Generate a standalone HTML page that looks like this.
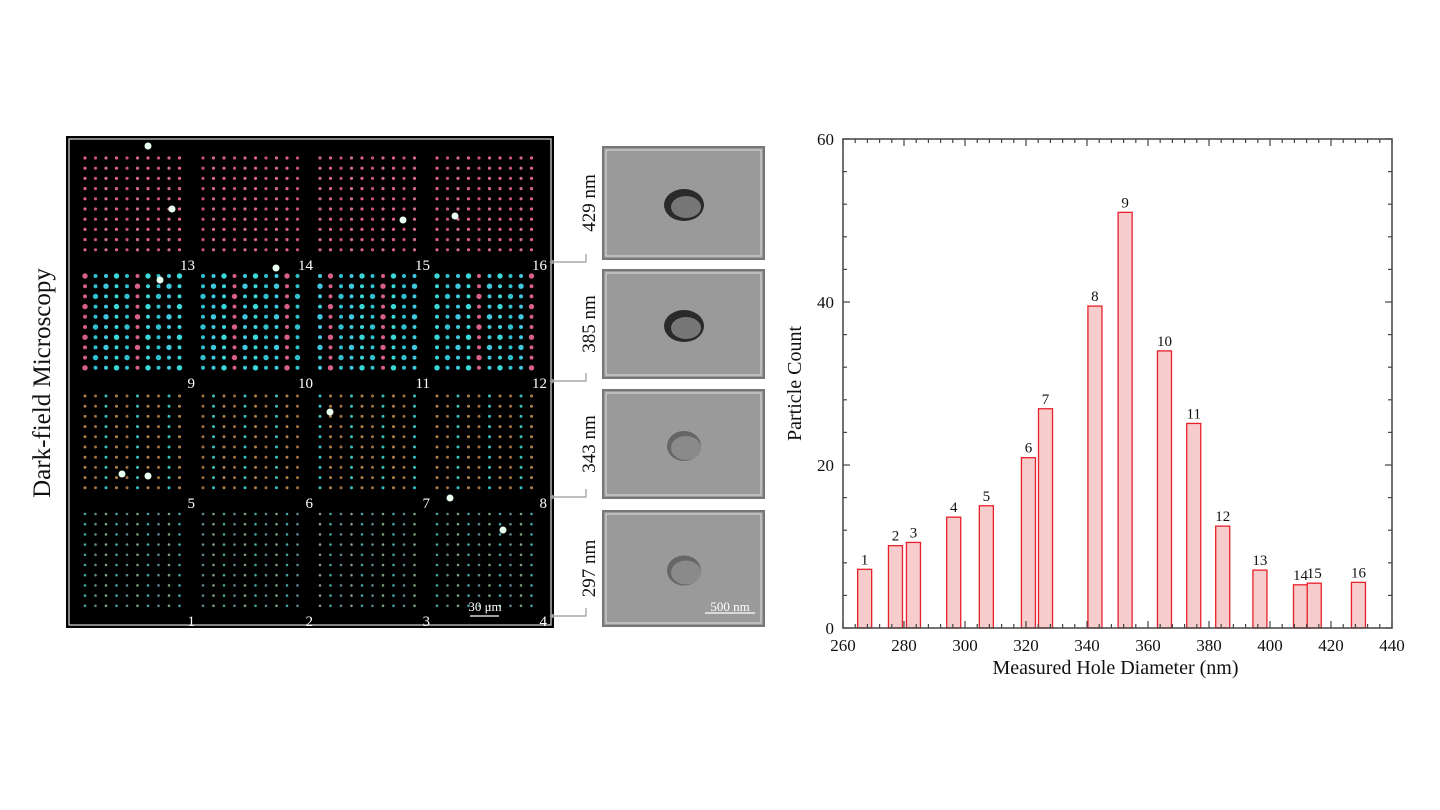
<!DOCTYPE html>
<html><head><meta charset="utf-8"><style>
body{margin:0;width:1440px;height:810px;background:#fff;overflow:hidden;font-family:"Liberation Serif",serif}
svg{position:absolute;left:0;top:0}
</style></head><body>
<svg id="fig" width="1440" height="810">
  <g id="micro">
    <rect x="66" y="136" width="488" height="492" fill="#000"/>
    <rect x="69" y="139" width="482" height="486" fill="none" stroke="#ddd" stroke-width="1.2"/>
  </g>
  <text transform="translate(50,383) rotate(-90)" text-anchor="middle" font-size="25" fill="#111">Dark-field Microscopy</text>
  <g id="sem"></g>
  <g id="chart"></g>
</svg>
<script>
const NS="http://www.w3.org/2000/svg";
function mk(p,t,a){const e=document.createElementNS(NS,t);for(const k in a)e.setAttribute(k,a[k]);p.appendChild(e);return e;}
// ---- microscopy dots (decorative) ----
const micro=document.getElementById('micro');
const colX=[85,203,320,437],rowY=[158,276,396,514];
const rowCols=[['#e0608a','#c85080','#d06a90'],['#3ad8d8','#30c0d0','#40c8e0'],['#b08048','#a07040','#38c0c0'],['#40a8a0','#608890','#80a080']];
const rowR=[1.6,2.0,1.5,1.3];
for(let r=0;r<4;r++)for(let c=0;c<4;c++){
  for(let i=0;i<10;i++)for(let j=0;j<10;j++){
    let col=rowCols[r][(i*7+j*3+c)%3];
    if(r==1&&(i*3+j*5+c)%5==0)col='#d86088';
    mk(micro,'circle',{cx:colX[c]+i*10.5,cy:rowY[r]+j*10.2,r:rowR[r]+((r==1&&(i+j+c)%3==0)?0.7:0),fill:col});
  }
  const n=(3-r)*4+c+1;
  const t=mk(micro,'text',{x:colX[c]+110,y:rowY[r]+112,'text-anchor':'end','font-size':15,fill:'#fff'});
  t.textContent=n;
  
  
}
[[148,146],[172,209],[403,220],[455,216],[276,268],[160,280],[122,474],[148,476],[330,412],[450,498],[503,530]].forEach(p=>mk(micro,'circle',{cx:p[0],cy:p[1],r:3.5,fill:'#e8fff0'}));
mk(micro,'line',{x1:470,y1:616,x2:499,y2:616,stroke:'#fff','stroke-width':1.2});
const sb=mk(micro,'text',{x:485,y:611,'text-anchor':'middle','font-size':13,fill:'#fff'});sb.textContent='30 μm';


// ---- SEM panels ----
const sem=document.getElementById('sem');
const semY=[147,270,390,511],semH=[112,108,108,115],semL=['429 nm','385 nm','343 nm','297 nm'],connY=[262,381,497,616];
for(let k=0;k<4;k++){
  mk(sem,'rect',{x:603,y:semY[k],width:161,height:semH[k],fill:'#9a9a9a',stroke:'#777','stroke-width':2});
  mk(sem,'rect',{x:606,y:semY[k]+3,width:155,height:semH[k]-6,fill:'none',stroke:'#ddd','stroke-width':1});
  const cy=semY[k]+semH[k]/2+2;
  mk(sem,'ellipse',{cx:684,cy:cy,rx:k<2?20:17,ry:k<2?16:15,fill:k<2?'#2a2a2a':'#666'});
  mk(sem,'ellipse',{cx:686,cy:cy+2,rx:15,ry:k<2?11:12,fill:k<2?'#777':'#8a8a8a'});
  const t=mk(sem,'text',{transform:`translate(${595},${semY[k]+semH[k]/2}) rotate(-90)`,'text-anchor':'middle','font-size':19,fill:'#111'});
  t.textContent=semL[k];
  
  
  mk(sem,'polyline',{points:`552,${connY[k]} 586,${connY[k]} 586,${connY[k]-8}`,fill:'none',stroke:'#999','stroke-width':1.2});
  mk(sem,'circle',{cx:552,cy:connY[k],r:2.2,fill:'#999'});
}
mk(sem,'line',{x1:705,y1:613,x2:755,y2:613,stroke:'#fff','stroke-width':1.2});
const sb2=mk(sem,'text',{x:730,y:611,'text-anchor':'middle','font-size':13,fill:'#fff'});sb2.textContent='500 nm';


// ---- chart data ----
const barLabels=['1','2','3','4','5','6','7','8','9','10','11','12','13','14','15','16'];
const diameters=[267.1,277.2,283.1,296.3,307.0,320.8,326.4,342.6,352.5,365.4,375.0,384.5,396.7,410.0,414.5,429.0];
const counts=[7.2,10.1,10.5,13.6,15.0,20.9,26.9,39.5,51.0,34.0,25.1,12.5,7.1,5.3,5.5,5.6];
const xTicks=[260,280,300,320,340,360,380,400,420,440];
const yTicks=[0,20,40,60];
const L=843,R=1392,T=139,B=628,xMin=260,xMax=440,yMax=60,barW=4.6;
const X=v=>L+(v-xMin)/(xMax-xMin)*(R-L);
const Y=v=>B-v/yMax*(B-T);
const ch=document.getElementById('chart');
barLabels.forEach((lab,i)=>{
  const b=mk(ch,'rect',{x:X(diameters[i]-barW/2),y:Y(counts[i]),width:X(barW)-X(0),height:B-Y(counts[i]),fill:'#f7cccc',stroke:'#e8202a','stroke-width':1.3});
  
  
  const t=mk(ch,'text',{x:X(diameters[i]),y:Y(counts[i])-5,'text-anchor':'middle','font-size':15,fill:'#111'});
  t.textContent=lab;
  
  
});
const fr=mk(ch,'rect',{x:L,y:T,width:R-L,height:B-T,fill:'none',stroke:'#444','stroke-width':1.5});


for(let v=xMin;v<=xMax;v+=4){const big=v%20===0,len=big?7:4;
  mk(ch,'line',{x1:X(v),y1:B,x2:X(v),y2:B-len,stroke:'#444','stroke-width':1.2});
  mk(ch,'line',{x1:X(v),y1:T,x2:X(v),y2:T+len,stroke:'#444','stroke-width':1.2});}
for(let v=0;v<=yMax;v+=4){const big=v%20===0,len=big?7:4;
  mk(ch,'line',{x1:L,y1:Y(v),x2:L+len,y2:Y(v),stroke:'#444','stroke-width':1.2});
  mk(ch,'line',{x1:R,y1:Y(v),x2:R-len,y2:Y(v),stroke:'#444','stroke-width':1.2});}
xTicks.forEach(v=>{const t=mk(ch,'text',{x:X(v),y:B+23,'text-anchor':'middle','font-size':17,fill:'#111'});t.textContent=v;
  
  });
yTicks.forEach(v=>{const t=mk(ch,'text',{x:L-9,y:Y(v)+6,'text-anchor':'end','font-size':17,fill:'#111'});t.textContent=v;
  
  });
const xt=mk(ch,'text',{x:(L+R)/2-2,y:674,'text-anchor':'middle','font-size':20,fill:'#111'});xt.textContent='Measured Hole Diameter (nm)';


const yt=mk(ch,'text',{transform:`translate(801,${(T+B)/2}) rotate(-90)`,'text-anchor':'middle','font-size':20,fill:'#111'});yt.textContent='Particle Count';


</script>
</body></html>
